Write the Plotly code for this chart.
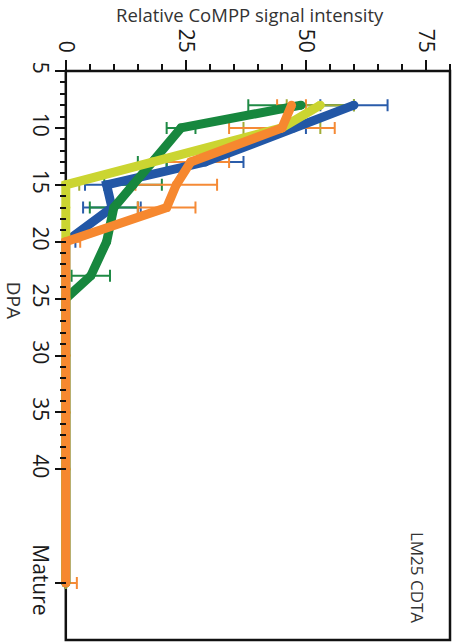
import plotly.graph_objects as go

# Days post anthesis (Mature placed after 40 on the DPA axis)
dpa_pos = [8, 10, 13, 15, 17, 20, 23, 25, 30, 35, 40, 50]
dpa_tick_vals = [5, 10, 15, 20, 25, 30, 35, 40, 50]
dpa_tick_text = ["5", "10", "15", "20", "25", "30", "35", "40", "Mature"]
intensity_ticks = [0, 25, 50, 75]

# Relative CoMPP signal intensity per series, with standard errors
blue_vals = [60, 47.5, 29, 8.5, 9.6, 0, 0, 0, 0, 0, 0, 0]
blue_err = [7, 2.5, 8, 4.5, 6, 2, 0, 0, 0, 0, 0, 0]
green_vals = [49, 24, 18, 14, 10, 8.5, 5.2, 0, 0, 0, 0, 0]
green_err = [11, 3, 3, 6, 5, 0, 4, 0, 0, 0, 0, 0]
yellow_vals = [53, 45, 18, 0, 0, 0, 0, 0, 0, 0, 0, 0]
yellow_err = [7, 8, 0, 2.8, 0, 0, 0, 0, 0, 0, 0, 0]
orange_vals = [47, 45, 26, 23, 21, 0, 0, 0, 0, 0, 0, 0]
orange_err = [3, 11, 8, 8.5, 6, 3, 0, 0, 0, 0, 0, 2.3]

series = [
    (blue_vals, blue_err, "#2257a6", "#2a5caa"),
    (green_vals, green_err, "#17873e", "#1f8a45"),
    (yellow_vals, yellow_err, "#cbd531", "#a2ac38"),
    (orange_vals, orange_err, "#f6882f", "#f58a36"),
]

X_MIN, X_MAX = -1, 80
FONT = "Open Sans"

fig = go.Figure()

# error bars first so every line sits above them
for vals, err, line_c, err_c in series:
    fig.add_trace(go.Scatter(
        x=vals, y=dpa_pos, mode="markers",
        marker=dict(size=1, opacity=0, color=line_c),
        error_x=dict(type="data", array=err, visible=True,
                     color=err_c, thickness=2, width=6),
        showlegend=False, hoverinfo="skip",
    ))

for vals, err, line_c, err_c in series:
    fig.add_trace(go.Scatter(
        x=vals, y=dpa_pos, mode="lines+markers",
        line=dict(color=line_c, width=9),
        marker=dict(color=line_c, size=9),
        showlegend=False,
    ))

zero_frac = (0 - X_MIN) / (X_MAX - X_MIN)

fig.update_layout(
    width=459, height=642,
    margin=dict(l=61, r=9, t=71, b=2),
    paper_bgcolor="white", plot_bgcolor="white",
    font=dict(family=FONT, color="#222"),
    xaxis=dict(
        side="top", range=[X_MIN, X_MAX],
        tickmode="array", tickvals=intensity_ticks,
        tickangle=90, ticks="outside", ticklen=10, tickwidth=2,
        tickcolor="#111", tickfont=dict(size=21, color="#1a1a1a"),
        minor=dict(tickmode="array",
                   tickvals=[v for v in range(5, 81, 5) if v not in intensity_ticks],
                   ticks="outside", ticklen=6, tickwidth=1.5, tickcolor="#111"),
        showgrid=False, zeroline=False, showline=False,
    ),
    yaxis=dict(
        range=[55, 5], anchor="free", position=zero_frac,
        tickmode="array", tickvals=dpa_tick_vals, ticktext=dpa_tick_text,
        tickangle=90, ticks="outside", ticklen=11, tickwidth=2,
        tickcolor="#111", tickfont=dict(size=21, color="#1a1a1a"),
        ticklabelstandoff=-3,
        minor=dict(tickmode="array",
                   tickvals=[v for v in range(6, 40) if v % 5 != 0],
                   ticks="outside", ticklen=6, tickwidth=1.5, tickcolor="#111"),
        showgrid=False, zeroline=False, showline=False,
    ),
    shapes=[dict(type="rect", xref="paper", yref="paper",
                 x0=zero_frac, x1=1, y0=0, y1=1,
                 line=dict(color="#111", width=2.5), layer="below")],
    annotations=[
        dict(text="Relative CoMPP signal intensity", xref="paper", yref="paper",
             x=0.486, y=1.099, showarrow=False, xanchor="center", yanchor="middle",
             font=dict(size=18.5, color="#333")),
        dict(text="DPA", xref="paper", yref="paper", x=-0.12, y=0.5975,
             showarrow=False, textangle=90, xanchor="center", yanchor="middle",
             font=dict(size=19, color="#333")),
        dict(text="LM25 CDTA", xref="paper", yref="paper", x=0.918, y=0.1107,
             showarrow=False, textangle=90, xanchor="center", yanchor="middle",
             font=dict(size=17, color="#333")),
    ],
)

fig.write_html("out.html")
